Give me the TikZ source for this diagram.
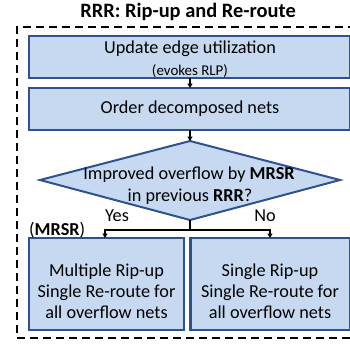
\documentclass[tikz,border=0pt]{standalone}
\usepackage{fontspec}
\setmainfont{Carlito}
\usetikzlibrary{arrows.meta}
\definecolor{boxfill}{RGB}{198,217,241}
\definecolor{boxline}{RGB}{47,82,143}
\tikzset{
  stepbox/.style={draw=boxline, fill=boxfill, line width=2.2pt},
  flow/.style={draw=black, line width=1.3pt, -{Triangle[width=5pt,length=4.5pt]}},
  link/.style={draw=black, line width=1.3pt},
  lbl/.style={font=\fontsize{18.3}{21}\selectfont, align=center, inner sep=0pt},
}
\begin{document}
\begin{tikzpicture}[x=1bp, y=-1bp]
\useasboundingbox (0,0) rectangle (350,345);
% title
\node[font=\fontsize{20.5}{23}\selectfont\bfseries, inner sep=0pt] (title) at (188,12) {RRR: Rip-up and Re-route};
% dashed enclosure
\draw[line width=2.4pt, dash pattern=on 8bp off 5bp] (356,27) -- (17,27) -- (17,338) -- (356,338);
% boxes
\draw[stepbox] (29,36) rectangle (350.5,78);
\node[lbl] (upd) at (190,49) {Update edge utilization};
\node[inner sep=0pt, font=\fontsize{15}{17}\selectfont] (rlp) at (190,71) {(evokes RLP)};
\coordinate (b1s) at (190,78);
\draw[stepbox] (29,88) rectangle (350.5,130);
\node[lbl] (ord) at (190,109) {Order decomposed nets};
\coordinate (b2n) at (190,88);
\coordinate (b2s) at (190,130);
% decision
\coordinate (dn) at (190,141);
\coordinate (ds) at (190,220);
\draw[stepbox, line width=2pt] (dn) -- (340,180) -- (ds) -- (40,180) -- cycle;
\node[lbl] (q1) at (189,175) {Improved overflow by \textbf{MRSR}};
\node[lbl] (q2) at (190,197) {in previous \textbf{RRR}?};
% branch boxes
\draw[stepbox] (29,238) rectangle (184,330);
\draw[stepbox] (190.5,238) rectangle (350.5,330);
\node[lbl] (mrsr) at (106.5,291) {Multiple Rip-up\\Single Re-route for\\all overflow nets};
\node[lbl] (srsr) at (270,291) {Single Rip-up\\Single Re-route for\\all overflow nets};
\coordinate (ln) at (105,238);
\coordinate (rn) at (270,238);
\coordinate (split) at (190,230);
% labels
\node[lbl] (yes) at (117,216) {Yes};
\node[lbl] (no) at (265,216) {No};
\node[lbl, anchor=west] (tag) at (29,230) {(\textbf{MRSR})};
% connectors
\draw[flow] (b1s) -- (b2n);
\draw[flow] (b2s) -- (dn);
\draw[link] (ds) -- (split);
\draw[flow] (split) -| (ln);
\draw[flow] (split) -| (rn);
\end{tikzpicture}
\end{document}
